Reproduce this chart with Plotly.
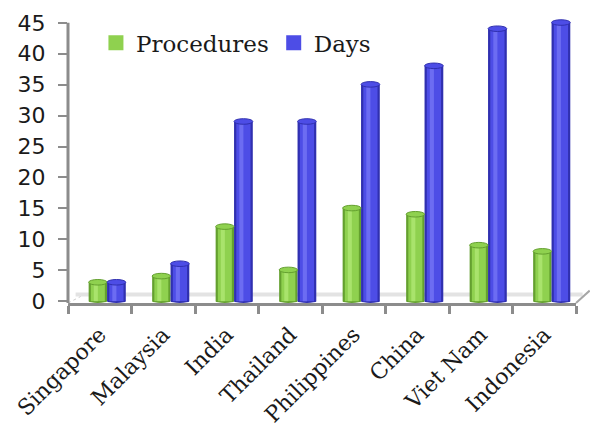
import plotly.graph_objects as go

# Start-up requirements by economy
countries = ["Singapore", "Malaysia", "India", "Thailand", "Philippines",
             "China", "Viet Nam", "Indonesia"]
procedures = [3, 4, 12, 5, 15, 14, 9, 8]
days = [3, 6, 29, 29, 35, 38, 44, 45]
y_ticks = [0, 5, 10, 15, 20, 25, 30, 35, 40, 45]

Y_MIN, Y_MAX = -0.3, 47.4
FONT = "DejaVu Serif"

# colour ramps for the cylinder look: edge, body, highlight
green = ("#64a02f", "#8fd14f", "#a9e36c")
blue = ("#3030b0", "#4d4de6", "#6c6cf2")

# bar placement inside each category (in category units)
series = [
    ("Procedures", procedures, green, -0.175, 0.29),
    ("Days", days, blue, 0.115, 0.295),
]

fig = go.Figure()
shapes = []

for name, vals, (edge, body, hi), off, w in series:
    # dark outer body
    fig.add_trace(go.Bar(x=countries, y=vals, offset=off, width=w,
                         marker=dict(color=edge, line=dict(width=0)),
                         showlegend=False, hoverinfo="skip"))
    # main body
    fig.add_trace(go.Bar(x=countries, y=vals, name=name,
                         offset=off + w * 0.12, width=w * 0.76,
                         marker=dict(color=body, line=dict(width=0)),
                         showlegend=False))
    # highlight strip
    fig.add_trace(go.Bar(x=countries, y=vals, offset=off + w * 0.28, width=w * 0.22,
                         marker=dict(color=hi, line=dict(width=0)),
                         showlegend=False, hoverinfo="skip"))
    # legend key: plain square swatch
    fig.add_trace(go.Scatter(x=[None], y=[None], mode="markers", name=name,
                             marker=dict(symbol="square", size=15, color=body,
                                         line=dict(width=0))))
    # elliptical top and bottom caps
    for i, v in enumerate(vals):
        x0, x1 = i + off, i + off + w
        shapes.append(dict(type="circle", xref="x", yref="y",
                           x0=x0, x1=x1, y0=v - 0.4, y1=v + 0.5,
                           fillcolor=body, line=dict(color=edge, width=1),
                           layer="above"))
        shapes.append(dict(type="circle", xref="x", yref="y",
                           x0=x0, x1=x1, y0=-0.28, y1=0.28,
                           fillcolor=edge, line=dict(width=0), layer="below"))

# floor edge and frame lines
shapes += [
    dict(type="rect", xref="paper", yref="paper", x0=0.015, x1=1.013,
         y0=0.022, y1=0.036, fillcolor="#e3e3e3", line=dict(width=0), layer="below"),
    dict(type="line", xref="paper", yref="paper", x0=1.0, y0=0.0, x1=1.027, y1=0.042,
         line=dict(color="#a6a6a6", width=2)),
    dict(type="line", xref="paper", yref="paper", x0=0.0, y0=0.0, x1=0.025, y1=0.022,
         line=dict(color="#cfcfcf", width=1, dash="dot")),
    dict(type="line", xref="paper", yref="paper", x0=0.0, x1=0.0,
         y0=0.0, y1=(45 - Y_MIN) / (Y_MAX - Y_MIN),
         line=dict(color="#8c8c8c", width=3)),
]

fig.update_layout(
    width=590, height=426,
    margin=dict(l=68, r=14, t=8, b=123, autoexpand=False),
    barmode="overlay",
    paper_bgcolor="white", plot_bgcolor="white",
    font=dict(family=FONT, color="#1a1a1a"),
    shapes=shapes,
    legend=dict(orientation="h", x=0.055, y=0.955, xanchor="left", yanchor="top",
                font=dict(family=FONT, size=23, color="#1a1a1a"),
                bgcolor="rgba(0,0,0,0)", itemclick=False, itemwidth=30,
                tracegroupgap=0),
    xaxis=dict(type="category", showline=True, linecolor="#8c8c8c", linewidth=3,
               ticks="outside", tickson="boundaries", ticklen=8, tickwidth=3,
               tickcolor="#8c8c8c", tickangle=-45, showgrid=False,
               automargin=False, ticklabelstandoff=7,
               tickfont=dict(family=FONT, size=22, color="#1a1a1a"),
               range=[-0.5, len(countries) - 0.5]),
    yaxis=dict(range=[Y_MIN, Y_MAX], tickvals=y_ticks, showline=False,
               ticks="outside", ticklen=9, tickwidth=2, tickcolor="#8c8c8c",
               showgrid=False, zeroline=False, ticklabelstandoff=8,
               automargin=False,
               tickfont=dict(family="DejaVu Sans", size=22, color="#1a1a1a")),
)

fig.write_html("out.html")
